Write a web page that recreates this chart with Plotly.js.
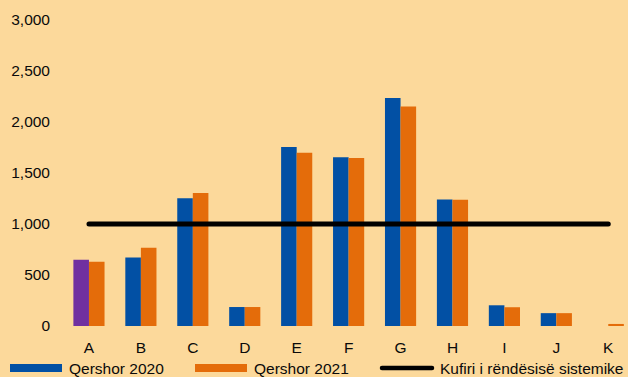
<!DOCTYPE html>
<html>
<head>
<meta charset="utf-8">
<script src="https://cdn.plot.ly/plotly-3.0.1.min.js"></script>
<style>
  html, body { margin: 0; padding: 0; background: #FCD99B; }
  #chart { width: 628px; height: 377px; }
</style>
</head>
<body>
<div id="chart"></div>
<script>
// ---- data ----
const categories = ["A", "B", "C", "D", "E", "F", "G", "H", "I", "J", "K"];
const values2020 = [650, 672, 1252, 186, 1755, 1655, 2235, 1240, 203, 126, 0];
const values2021 = [630, 768, 1305, 186, 1698, 1648, 2153, 1237, 184, 126, 20];
const threshold  = [1000, 1000, 1000, 1000, 1000, 1000, 1000, 1000, 1000, 1000, 1000];
const seriesNames = ["Qershor 2020", "Qershor 2021", "Kufiri i rëndësisë sistemike"];
const yTickValues = [0, 500, 1000, 1500, 2000, 2500, 3000];
const yTickLabels = ["0", "500", "1,000", "1,500", "2,000", "2,500", "3,000"];

// ---- style ----
const BG = "#FCD99B";
const BLUE = "#0250A4";
const ORANGE = "#E46C0A";
const PURPLE = "#7030A0";
const FONT = "Liberation Sans, Arial, sans-serif";
const FS = 15.5;
const TXT = "#0a0a0a";
const W = 628, H = 377;
const M = { l: 63, r: 0, t: 20, b: 51 };

const colors2020 = categories.map((c, i) => i === 0 ? PURPLE : BLUE);

const traces = [
  { type: "bar", x: categories, y: values2020, name: seriesNames[0],
    marker: { color: colors2020, line: { width: 0 } }, showlegend: false, hoverinfo: "none" },
  { type: "bar", x: categories, y: values2021, name: seriesNames[1],
    marker: { color: ORANGE, line: { width: 0 } }, showlegend: false, hoverinfo: "none" },
  { type: "scatter", mode: "lines", x: categories, y: threshold, name: seriesNames[2],
    line: { color: "#000", width: 5 }, showlegend: false, hoverinfo: "none" }
];

// pixel -> paper helpers for the hand-drawn legend
const pw = W - M.l - M.r, ph = H - M.t - M.b;
const px = v => (v - M.l) / pw;
const py = v => (H - M.b - v) / ph;

const legendY = 368;
const shapes = [
  { type: "rect", xref: "paper", yref: "paper", x0: px(10), x1: px(62), y0: py(372), y1: py(364),
    fillcolor: BLUE, line: { width: 0 } },
  { type: "rect", xref: "paper", yref: "paper", x0: px(195), x1: px(247), y0: py(372), y1: py(364),
    fillcolor: ORANGE, line: { width: 0 } },
  { type: "line", xref: "paper", yref: "paper", x0: px(382), x1: px(432), y0: py(legendY), y1: py(legendY),
    line: { color: "#000", width: 4.5 } }
];
const legendX = [66.5, 252, 437.5];
const annotations = seriesNames.map((n, i) => ({
  xref: "paper", yref: "paper", x: px(legendX[i]), y: py(legendY),
  xanchor: "left", yanchor: "middle", showarrow: false, text: n,
  font: { family: FONT, size: FS, color: TXT }
}));

const layout = {
  width: W, height: H,
  margin: M,
  paper_bgcolor: BG, plot_bgcolor: BG,
  font: { family: FONT, size: FS, color: TXT },
  barmode: "group", bargap: 0.4, bargroupgap: 0,
  showlegend: false,
  xaxis: {
    type: "category", range: [-0.5, 10.38], showgrid: false, zeroline: false,
    showline: false, ticks: "", ticklabelstandoff: 10, fixedrange: true,
    tickfont: { family: FONT, size: FS, color: TXT }
  },
  yaxis: {
    range: [0, 3000], tickvals: yTickValues, ticktext: yTickLabels,
    showgrid: false, zeroline: false, showline: false, ticks: "",
    ticklabelstandoff: 12, fixedrange: true,
    tickfont: { family: FONT, size: FS, color: TXT }
  },
  shapes: shapes,
  annotations: annotations
};

Plotly.newPlot("chart", traces, layout, { displayModeBar: false, staticPlot: true }).then(() => {
  document.querySelectorAll("#chart .scatterlayer path.js-line").forEach(p => {
    p.style.strokeLinecap = "round";
  });
  document.querySelectorAll("#chart .shapelayer path").forEach(p => {
    if (p.style.fill === "none" || p.style.fillOpacity === "0") p.style.strokeLinecap = "round";
  });
});
</script>
</body>
</html>
